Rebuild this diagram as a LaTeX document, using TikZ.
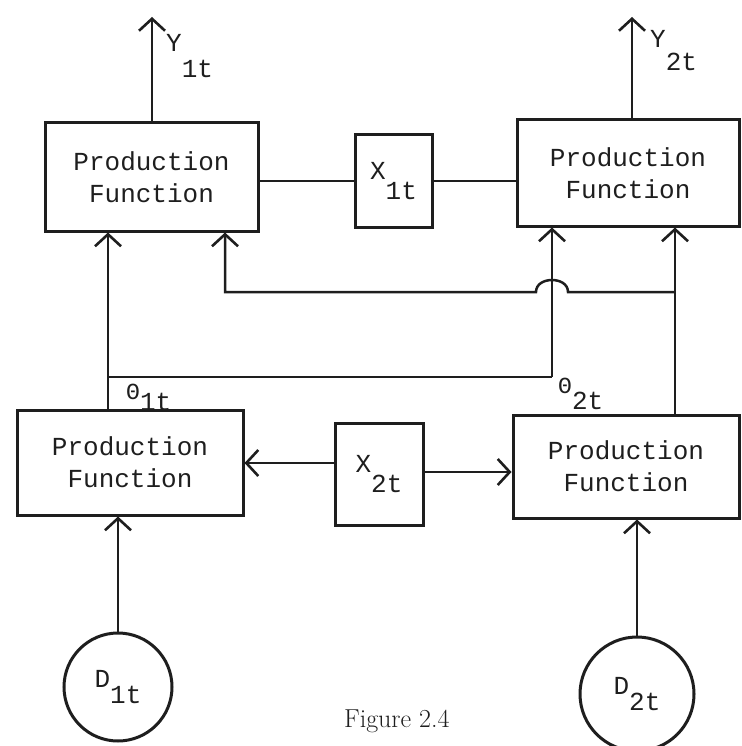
\documentclass[tikz,border=0pt]{standalone}
\usepackage{fontspec}
\setmonofont{Liberation Mono}
\usetikzlibrary{arrows.meta}
\definecolor{ink}{HTML}{1E1E1E}
\newcommand\lowsub[3][0.75em]{#2\raisebox{-#1}{#3}}
\newcommand\thet{{\fontsize{23}{23}\selectfont Θ}}
\begin{document}
\begin{tikzpicture}[x=1pt,y=-1pt,
  every node/.style={font=\ttfamily\fontsize{26}{32}\selectfont, text=ink},
  pbox/.style={draw=ink, line width=3pt, align=center, inner sep=0pt},
  dcirc/.style={draw=ink, line width=3pt, circle, inner sep=0pt},
  wire/.style={draw=ink, line width=2.5pt},
  arr/.style={wire, -{Straight Barb[length=12pt,width=26pt,line width=2.6pt]}},
  lbl/.style={inner sep=0pt, anchor=base west},
]
\useasboundingbox (0,0) rectangle (741,746);

% boxes
\node[pbox, minimum width=213pt, minimum height=108pt] (tl) at (151.5,177) {Production\\Function};
\node[pbox, minimum width=222pt, minimum height=106pt] (tr) at (628,173) {Production\\Function};
\node[pbox, minimum width=226pt, minimum height=105pt] (bl) at (130,462.5) {Production\\Function};
\node[pbox, minimum width=226pt, minimum height=103pt] (br) at (626,466.5) {Production\\Function};
\node[pbox, minimum width=77pt, minimum height=92pt] (x1) at (393.5,181) {\lowsub{X}{1t}};
\node[pbox, minimum width=88pt, minimum height=102pt] (x2) at (379,474) {\lowsub{X}{2t}};
\node[dcirc, minimum size=108pt] (d1) at (118,687) {\lowsub[0.6em]{D}{1t}};
\node[dcirc, minimum size=114pt] (d2) at (637,694) {\lowsub[0.6em]{D}{2t}};

% coordinates
\coordinate (y1top) at (152,17);
\coordinate (y2top) at (632,17);
\coordinate (th1) at (108,377);
\coordinate (th2) at (552,377);
\coordinate (r2) at (675,292);
\coordinate (hopR) at (568,292);
\coordinate (hopL) at (536,292);
\coordinate (l2) at (225,292);

% outputs
\draw[arr] (y1top |- tl.north) -- (y1top);
\draw[arr] (y2top |- tr.north) -- (y2top);

% X1t links
\draw[wire] (x1.west -| tl.east) -- (x1.west);
\draw[wire] (x1.east) -- (x1.east -| tr.west);

% theta links
\draw[arr] (bl.north -| th1) -- (tl.south -| th1);
\draw[wire] (th1) -- (th2);
\draw[arr] (th2) -- (tr.south -| th2);
\draw[arr] (br.north -| r2) -- (tr.south -| r2);
\draw[arr] (r2) -- (hopR) .. controls +(0,-16) and +(0,-16) .. (hopL) -- (l2) -- (tl.south -| l2);

% X2t links
\draw[arr] ([yshift=11pt]x2.west) -- ([yshift=11pt]x2.west -| bl.east);
\draw[arr] ([yshift=2pt]x2.east) -- ([yshift=2pt]x2.east -| br.west);

% D inputs
\draw[arr] (d1.north) -- (d1.north |- bl.south);
\draw[arr] (d2.north) -- (d2.north |- br.south);

% labels
\node[lbl] (ly1) at (166,52) {\lowsub[1.0em]{Y}{1t}};
\node[lbl] (ly2) at (650,48) {\lowsub[0.85em]{Y}{2t}};
\node[lbl] (lt1) at (126,399) {\thet\lowsub[0.45em]{}{1t}};
\node[lbl] (lt2) at (558,393) {\thet\lowsub[0.65em]{}{2t}};
\node[font=\rmfamily\fontsize{26}{30}\selectfont, anchor=base east] (cap) at (453,727) {Figure 2.4};
\end{tikzpicture}
\end{document}
